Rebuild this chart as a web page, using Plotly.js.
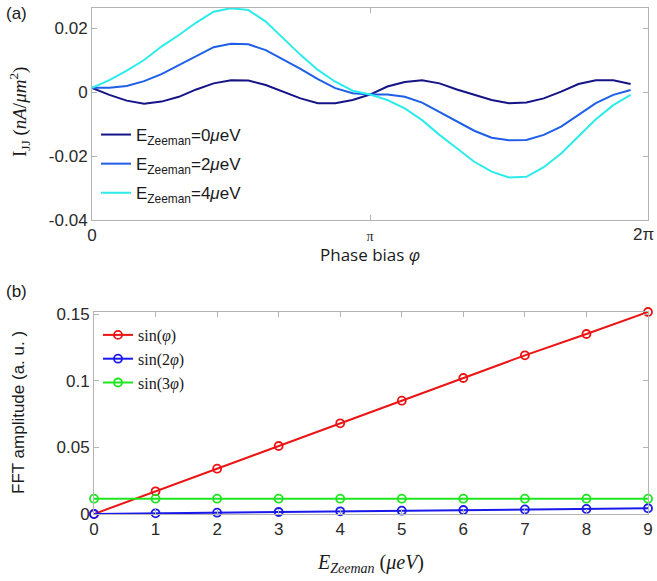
<!DOCTYPE html>
<html>
<head>
<meta charset="utf-8">
<script src="https://cdn.plot.ly/plotly-3.0.1.min.js"></script>
<style>html,body{margin:0;padding:0;background:#fff;}#chart{width:657px;height:581px;}</style>
</head>
<body>
<div id="chart"></div>
<script>
// ---- Panel (a): supercurrent vs phase bias (32 samples, step pi/16) ----
const phaseIndex = [0,1,2,3,4,5,6,7,8,9,10,11,12,13,14,15,16,17,18,19,20,21,22,23,24,25,26,27,28,29,30,31];
const ijjE0 = [0.0013,-0.0009,-0.0027,-0.0037,-0.0030,-0.0015,0.0008,0.0027,0.0037,0.0036,0.0022,0.0001,-0.0020,-0.0035,-0.0035,-0.0025,-0.0008,0.0017,0.0031,0.0037,0.0027,0.0008,-0.0009,-0.0025,-0.0035,-0.0033,-0.0020,0.0001,0.0025,0.0037,0.0037,0.0025];
const ijjE2 = [0.0013,0.0013,0.0019,0.0034,0.0056,0.0084,0.0113,0.0140,0.0151,0.0149,0.0131,0.0102,0.0072,0.0040,0.0012,-0.0004,-0.0008,-0.0008,-0.0015,-0.0033,-0.0062,-0.0093,-0.0121,-0.0143,-0.0151,-0.0150,-0.0134,-0.0108,-0.0072,-0.0035,-0.0009,0.0006];
const ijjE4 = [0.0013,0.0037,0.0067,0.0100,0.0142,0.0178,0.0217,0.0251,0.0262,0.0256,0.0220,0.0168,0.0116,0.0069,0.0032,0.0004,-0.0008,-0.0025,-0.0051,-0.0088,-0.0134,-0.0176,-0.0218,-0.0249,-0.0267,-0.0265,-0.0235,-0.0192,-0.0138,-0.0085,-0.0041,-0.0009];
const seriesA = ['E<sub>Zeeman</sub>=0<i>μ</i>eV','E<sub>Zeeman</sub>=2<i>μ</i>eV','E<sub>Zeeman</sub>=4<i>μ</i>eV'];
const xTickValsA = [0, Math.PI, 2*Math.PI];
const xTickTextA = ['0', '<span style="font-family:\'Liberation Serif\',serif;font-size:14px">π</span>', ''];
const lastTickTextA = '2π';
const yTickValsA = [-0.04,-0.02,0,0.02];
const yTickTextA = ['-0.04','-0.02','0','0.02'];

// ---- Panel (b): FFT amplitudes vs Zeeman energy ----
const eZeeman = [0,1,2,3,4,5,6,7,8,9];
const fftSin1 = [0,0.017,0.034,0.051,0.068,0.085,0.102,0.119,0.135,0.1515];
const fftSin2 = [0,0.0005,0.001,0.0015,0.002,0.0025,0.003,0.0034,0.0038,0.0043];
const fftSin3 = [0.0115,0.0115,0.0115,0.0115,0.0115,0.0115,0.0115,0.0115,0.0115,0.0115];
const seriesB = ['sin(<i>φ</i>)','sin(2<i>φ</i>)','sin(3<i>φ</i>)'];
const yTickValsB = [0,0.05,0.1,0.15];
const yTickTextB = ['0','0.05','0.1','0.15'];

const phase = phaseIndex.map(k => k*Math.PI/16);
const colA = ['rgb(20,20,135)','rgb(30,95,230)','rgb(45,235,235)'];
const colB = ['rgb(235,20,20)','rgb(25,25,235)','rgb(30,230,30)'];

const traces = [];
[ijjE0, ijjE2, ijjE4].forEach((ys,i) => traces.push({
  x: phase, y: ys, type:'scatter', mode:'lines', name: seriesA[i], legendgroup:'a'+i,
  line:{color:colA[i], width:2}, xaxis:'x', yaxis:'y', legend:'legend'
}));
[fftSin1, fftSin2, fftSin3].forEach((ys,i) => traces.push({
  x: eZeeman, y: ys, type:'scatter', mode:'lines+markers', name: seriesB[i],
  line:{color:colB[i], width:2}, marker:{symbol:'circle-open', size:8, color:colB[i], line:{width:1.8, color:colB[i]}},
  cliponaxis:false, xaxis:'x2', yaxis:'y2', legend:'legend2'
}));

const W=657, H=581;
const tickFont = {family:'Arial, Liberation Sans, sans-serif', size:17, color:'#2a2a2a'};
const axisCommon = {showline:true, mirror:'ticks', linecolor:'#b4b4b4', linewidth:1, ticks:'inside', ticklen:5, tickcolor:'#b4b4b4',
  showgrid:false, zeroline:false, tickfont:tickFont};

const layout = {
  width:W, height:H, margin:{l:0,r:0,t:0,b:0}, paper_bgcolor:'#fff', plot_bgcolor:'#fff', showlegend:true,
  xaxis: Object.assign({}, axisCommon, {domain:[92/W, 648/W], range:[0, 2*Math.PI+1e-6], tickvals:xTickValsA, ticktext:xTickTextA, anchor:'y'}),
  yaxis: Object.assign({}, axisCommon, {domain:[1-220/H, 1-8/H], range:[-0.04, 0.02625], tickvals:yTickValsA, ticktext:yTickTextA, anchor:'x'}),
  xaxis2: Object.assign({}, axisCommon, {domain:[94/W, 648/W], range:[0, 9], tickvals:eZeeman, anchor:'y2'}),
  yaxis2: Object.assign({}, axisCommon, {domain:[1-514/H, 1-312/H], range:[0, 0.1515], tickvals:yTickValsB, ticktext:yTickTextB, anchor:'x2'}),
  legend: {x:96/W, y:1-117/H, xanchor:'left', yanchor:'top', bgcolor:'rgba(0,0,0,0)', borderwidth:0,
    font:{family:'Arial, Liberation Sans, sans-serif', size:17, color:'#1a1a1a'}, itemwidth:30, tracegroupgap:4},
  legend2: {x:98/W, y:1-318/H, xanchor:'left', yanchor:'top', bgcolor:'rgba(0,0,0,0)', borderwidth:0,
    font:{family:'Liberation Serif, DejaVu Serif, serif', size:16, color:'#1a1a1a'}, itemwidth:30, tracegroupgap:0},
  annotations: [
    {text:lastTickTextA, x:656/W, y:1-235/H, xref:'paper', yref:'paper', xanchor:'right', yanchor:'middle', showarrow:false, font:tickFont},
    {text:'(a)', x:4/W, y:1-14/H, xref:'paper', yref:'paper', xanchor:'left', yanchor:'middle', showarrow:false,
      font:{family:'Arial, Liberation Sans, sans-serif', size:17, color:'#1a1a1a'}},
    {text:'(b)', x:4/W, y:1-291/H, xref:'paper', yref:'paper', xanchor:'left', yanchor:'middle', showarrow:false,
      font:{family:'Arial, Liberation Sans, sans-serif', size:17, color:'#1a1a1a'}},
    {text:'Phase bias <i>φ</i>', x:370/W, y:1-254/H, xref:'paper', yref:'paper', xanchor:'center', yanchor:'middle', showarrow:false,
      font:{family:'Open Sans, Noto Sans, sans-serif', size:17, color:'#1a1a1a'}},
    {text:'I<sub>JJ</sub> (<i>nA</i>/<i>μm</i><sup>2</sup>)', x:20/W, y:1-112/H, xref:'paper', yref:'paper', xanchor:'center', yanchor:'middle', showarrow:false, textangle:-90,
      font:{family:'Liberation Serif, DejaVu Serif, serif', size:19, color:'#1a1a1a'}},
    {text:'FFT amplitude (a. u. )', x:18/W, y:1-413/H, xref:'paper', yref:'paper', xanchor:'center', yanchor:'middle', showarrow:false, textangle:-90,
      font:{family:'Arial, Liberation Sans, sans-serif', size:17, color:'#1a1a1a'}},
    {text:'<i>E</i><sub><i>Zeeman</i></sub> (<i>μeV</i>)', x:370/W, y:1-563/H, xref:'paper', yref:'paper', xanchor:'center', yanchor:'middle', showarrow:false,
      font:{family:'Liberation Serif, DejaVu Serif, serif', size:20, color:'#1a1a1a'}}
  ]
};
Plotly.newPlot('chart', traces, layout, {displayModeBar:false, staticPlot:true});
</script>
</body>
</html>
